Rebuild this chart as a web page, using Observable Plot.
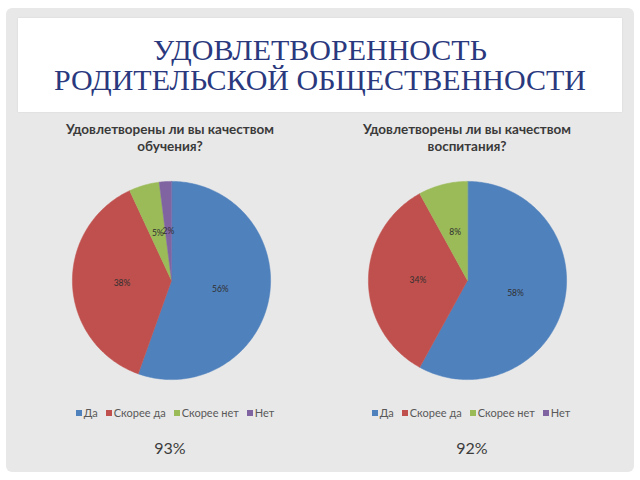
<!DOCTYPE html>
<html>
<head>
<meta charset="utf-8">
<script src="https://cdn.jsdelivr.net/npm/d3@7"></script>
<script src="https://cdn.jsdelivr.net/npm/@observablehq/plot@0.6"></script>
<style>
  html, body { margin: 0; padding: 0; background: #ffffff; }
  #stage { position: relative; width: 640px; height: 480px; overflow: hidden; }
  #panel { position: absolute; left: 6px; top: 8px; width: 628px; height: 464px; background: #e8e8e8; border-radius: 6px; }
  #titlebox { position: absolute; left: 18px; top: 18px; width: 604px; height: 94px; background: #ffffff; box-shadow: 0 0 2px rgba(0,0,0,0.08); }
  .title { position: absolute; left: 0; width: 640px; text-align: center; font-family: "Liberation Serif", serif; font-size: 30px; color: #2a387e; line-height: 30px; white-space: nowrap; }
  .ctitle { position: absolute; width: 300px; text-align: center; font-family: Lato, "Open Sans", sans-serif; font-weight: bold; font-size: 13.5px; color: #3a3a3a; line-height: 17px; }
  .pie { position: absolute; }
  .legend { position: absolute; width: 300px; text-align: center; font-family: Lato, sans-serif; font-size: 11px; color: #595959; white-space: nowrap; }
  .legend span.item { margin: 0 4px; }
  .legend span.sw { display: inline-block; width: 6px; height: 6px; margin-right: 2px; vertical-align: 1px; }
  .total { position: absolute; width: 200px; text-align: center; font-family: Lato, sans-serif; font-size: 16px; color: #3c3c3c; }
</style>
</head>
<body>
<div id="stage">
  <div id="panel"></div>
  <div id="titlebox"></div>
</div>
<script>
const categories = ["Да", "Скорее да", "Скорее нет", "Нет"];
const colors = ["#4F81BD", "#C0504D", "#9BBB59", "#8064A2"];
const learningValues = [56, 38, 5, 2];
const upbringingValues = [58, 34, 8, 0];
const mainTitle = ["УДОВЛЕТВОРЕННОСТЬ", "РОДИТЕЛЬСКОЙ ОБЩЕСТВЕННОСТИ"];
const chartTitles = [["Удовлетворены ли вы качеством", "обучения?"], ["Удовлетворены ли вы качеством", "воспитания?"]];
const totals = ["93%", "92%"];

const stage = document.getElementById("stage");

mainTitle.forEach((t, i) => {
  const d = document.createElement("div");
  d.className = "title";
  d.style.top = (35 + i * 30) + "px";
  d.textContent = t;
  stage.appendChild(d);
});

const charts = [
  {values: learningValues, cx: 171, cy: 279.5, title: chartTitles[0], tx: 170, lx: 175, total: totals[0], totx: 170},
  {values: upbringingValues, cx: 467, cy: 279.5, title: chartTitles[1], tx: 467, lx: 471, total: totals[1], totx: 472}
];

function slicesFor(values) {
  const rows = categories.map((c, i) => ({category: c, value: values[i]}));
  const arcs = d3.pie().sort(null).value(d => d.value)(rows);
  const poly = [];
  const labels = [];
  arcs.forEach(a => {
    if (a.data.value <= 0) return;
    const c = a.data.category;
    poly.push({category: c, x: 0, y: 0});
    const n = Math.max(2, Math.ceil((a.endAngle - a.startAngle) / (Math.PI / 180)));
    for (let k = 0; k <= n; k++) {
      const t = a.startAngle + (a.endAngle - a.startAngle) * k / n;
      poly.push({category: c, x: Math.sin(t), y: Math.cos(t)});
    }
    const m = (a.startAngle + a.endAngle) / 2;
    labels.push({category: c, x: 0.5 * Math.sin(m), y: 0.5 * Math.cos(m), label: a.data.value + "%"});
  });
  return {poly, labels};
}

charts.forEach(ch => {
  const t = document.createElement("div");
  t.className = "ctitle";
  t.style.left = (ch.tx - 150) + "px";
  t.style.top = "121px";
  t.innerHTML = ch.title.join("<br>");
  stage.appendChild(t);

  const {poly, labels} = slicesFor(ch.values);
  const size = 218;
  const plot = Plot.plot({
    width: size,
    height: size,
    margin: 0,
    style: {background: "transparent"},
    x: {domain: [-1.1, 1.1], axis: null},
    y: {domain: [-1.1, 1.1], axis: null},
    color: {domain: categories, range: colors},
    marks: [
      Plot.line(poly, {x: "x", y: "y", z: "category", fill: "category", stroke: "category", strokeWidth: 0.5, curve: "linear-closed"}),
      Plot.text(labels, {x: "x", y: "y", text: "label", fill: "#2f2f2f", fontSize: 8.5, fontFamily: "Lato, sans-serif"})
    ]
  });
  plot.classList.add("pie");
  plot.style.left = (ch.cx - size / 2) + "px";
  plot.style.top = (ch.cy - size / 2) + "px";
  stage.appendChild(plot);

  const lg = document.createElement("div");
  lg.className = "legend";
  lg.style.left = (ch.lx - 150) + "px";
  lg.style.top = "406px";
  categories.forEach((c, i) => {
    const it = document.createElement("span");
    it.className = "item";
    const sw = document.createElement("span");
    sw.className = "sw";
    sw.style.background = colors[i];
    it.appendChild(sw);
    it.appendChild(document.createTextNode(c));
    lg.appendChild(it);
  });
  stage.appendChild(lg);

  const tt = document.createElement("div");
  tt.className = "total";
  tt.style.left = (ch.totx - 100) + "px";
  tt.style.top = "438px";
  tt.textContent = ch.total;
  stage.appendChild(tt);
});
</script>
</body>
</html>
